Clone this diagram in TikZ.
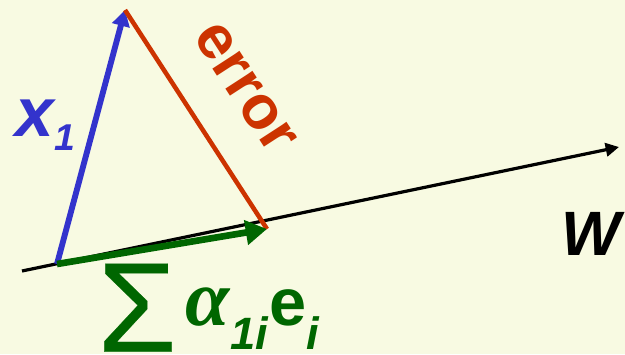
\documentclass[tikz,border=0pt]{standalone}
\usepackage{fontspec}
\setmainfont{Liberation Sans}
\newfontfamily\sigmafont[FakeBold=0.15]{Liberation Sans}
\newfontfamily\alphafont{Liberation Serif}
\usetikzlibrary{arrows.meta}

\definecolor{paper}{RGB}{248,250,226}
\definecolor{vecblue}{RGB}{51,51,204}
\definecolor{errred}{RGB}{204,51,0}
\definecolor{projgreen}{RGB}{0,102,0}

\newcommand{\lowidx}[3]{\raisebox{#1}{\fontsize{#2}{#2}\selectfont\bfseries\itshape #3}}

\tikzset{every picture/.style={line width=0.75pt}}

\begin{document}
\begin{tikzpicture}[x=0.75pt,y=0.75pt,yscale=-1,xscale=1,
  axis/.style={draw=black, line width=2.4pt, -{Triangle[length=10pt,width=10pt]}},
  vecx/.style={draw=vecblue, line width=4.4pt, -{Triangle[length=12pt,width=13pt]}},
  errline/.style={draw=errred, line width=3.4pt},
  proj/.style={draw=projgreen, line width=5pt, -{Triangle[length=16pt,width=18pt]}},
  lbl/.style={inner sep=0pt, font=\bfseries\itshape}]

%background
\fill[paper] (0,0) rectangle (625,354);
\useasboundingbox (0,0) rectangle (625,354);

%points
\coordinate (wstart) at (22,271);
\coordinate (wend) at (619,147);
\coordinate (origin) at (57,264);
\coordinate (xtip) at (125,10);
\coordinate (foot) at (267,229);

%Straight Lines
\draw[axis] (wstart) -- (wend);
%x_1
\draw[vecx] (origin) -- (xtip);
%error
\draw[errline] (xtip) -- (foot);
%projection
\draw[proj] (origin) -- (foot);

% Text Node
\node[lbl, text=vecblue, anchor=base west, font=\fontsize{52}{52}\selectfont\bfseries\itshape] (xlabel) at (15,136) {x\lowidx{-11pt}{28}{1}};
% Text Node
\node[lbl, text=errred, rotate=-57, font=\fontsize{46}{46}\selectfont\bfseries] (errlabel) at (245,88) {error};
% Text Node
\node[lbl, anchor=base west, font=\fontsize{47}{47}\selectfont\bfseries\itshape] (wlabel) at (561,255) {W};
% Text Node
\node[lbl, text=projgreen, anchor=base west, font=\fontsize{50}{50}\selectfont\bfseries] (sumlabel) at (97,325) {\raisebox{-20pt}{\fontsize{96}{96}\sigmafont\mdseries\upshape Σ}\hspace{7pt}{\alphafont\bfseries\itshape\fontsize{60}{60}\selectfont α}\lowidx{-18pt}{34}{1i}\hspace{1pt}e\lowidx{-18pt}{34}{i}};

\end{tikzpicture}
\end{document}
